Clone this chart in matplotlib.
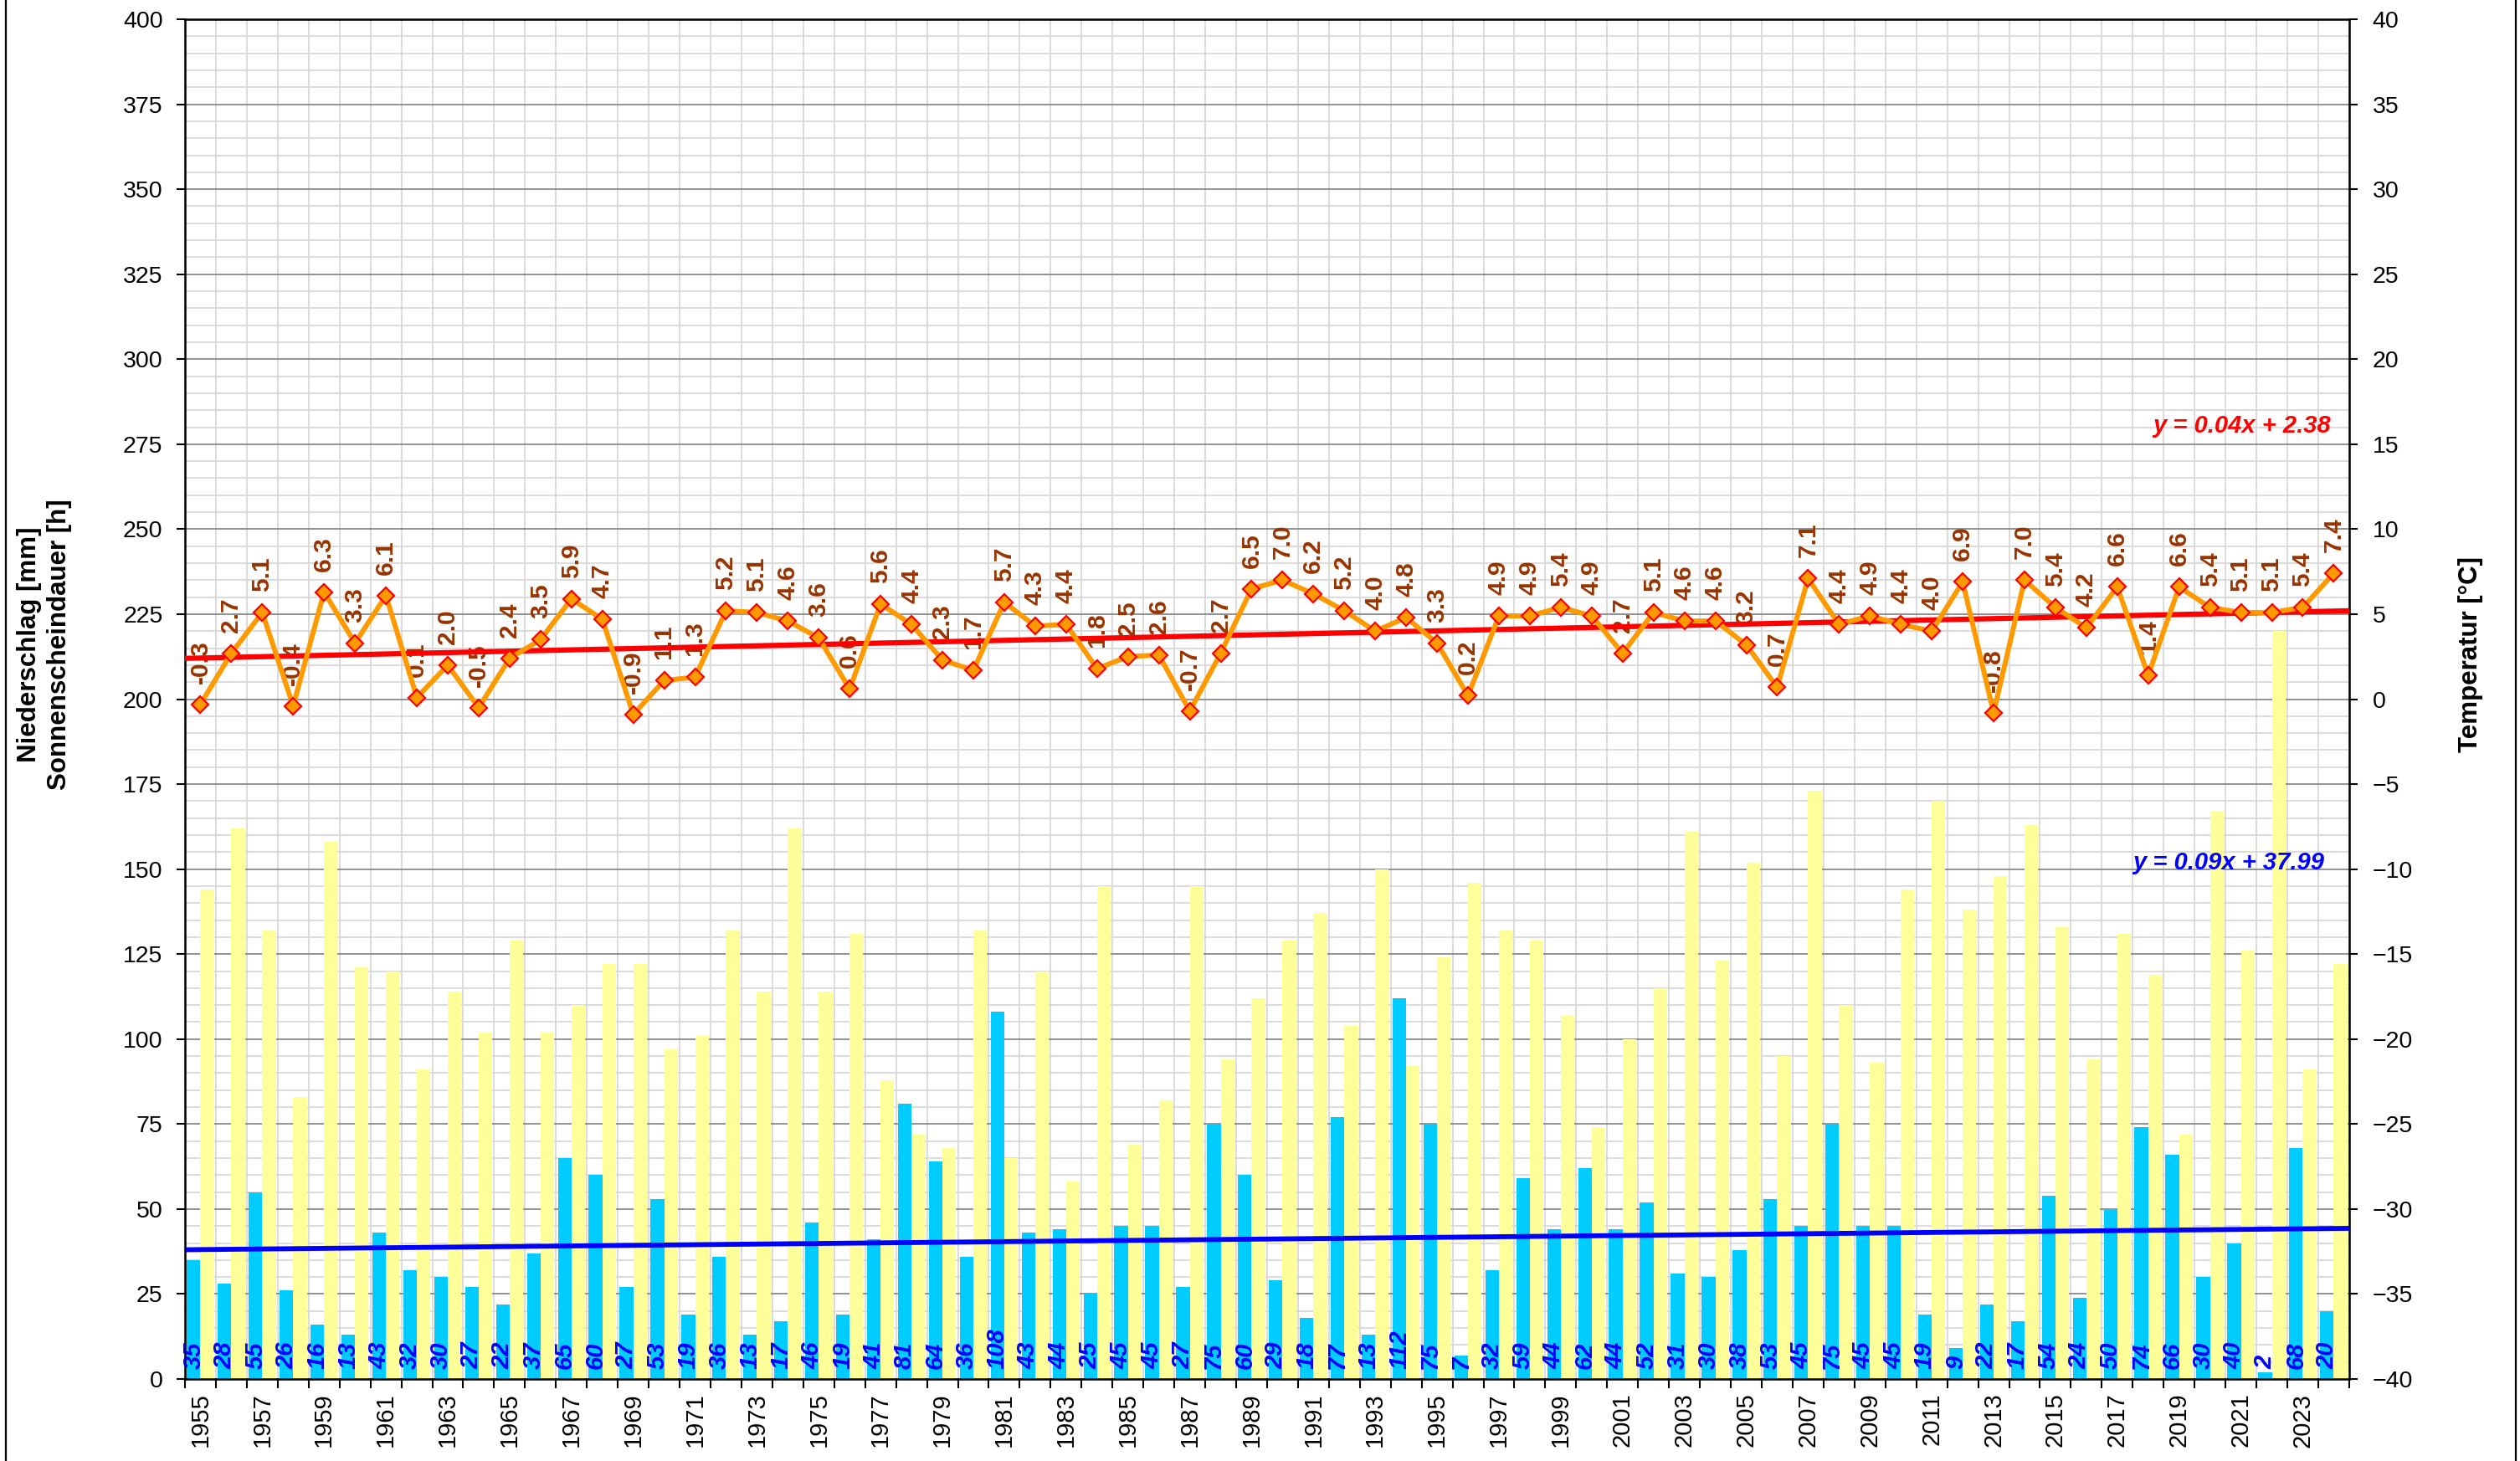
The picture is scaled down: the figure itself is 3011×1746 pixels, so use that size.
import numpy as np
import matplotlib
matplotlib.use("Agg")
import matplotlib.pyplot as plt
from matplotlib.ticker import MultipleLocator, FixedLocator
from matplotlib.lines import Line2D

# =============================================================================
# data
# =============================================================================
years = list(range(1955, 2025))

niederschlag = [35, 28, 55, 26, 16, 13, 43, 32, 30, 27,
                22, 37, 65, 60, 27, 53, 19, 36, 13, 17,
                46, 19, 41, 81, 64, 36, 108, 43, 44, 25,
                45, 45, 27, 75, 60, 29, 18, 77, 13, 112,
                75, 7, 32, 59, 44, 62, 44, 52, 31, 30,
                38, 53, 45, 75, 45, 45, 19, 9, 22, 17,
                54, 24, 50, 74, 66, 30, 40, 2, 68, 20]

sonne = [144, 162, 132, 83, 158, 121, 120, 91, 114, 102,
         129, 102, 110, 122, 122, 97, 101, 132, 114, 162,
         114, 131, 88, 72, 68, 132, 65, 120, 58, 145,
         69, 82, 145, 94, 112, 129, 137, 104, 150, 92,
         124, 146, 132, 129, 107, 74, 100, 115, 161, 123,
         152, 95, 173, 110, 93, 144, 170, 138, 148, 163,
         133, 94, 131, 119, 72, 167, 126, 220, 91, 122]

temperatur = [-0.3, 2.7, 5.1, -0.4, 6.3, 3.3, 6.1, 0.1, 2.0, -0.5,
              2.4, 3.5, 5.9, 4.7, -0.9, 1.1, 1.3, 5.2, 5.1, 4.6,
              3.6, 0.6, 5.6, 4.4, 2.3, 1.7, 5.7, 4.3, 4.4, 1.8,
              2.5, 2.6, -0.7, 2.7, 6.5, 7.0, 6.2, 5.2, 4.0, 4.8,
              3.3, 0.2, 4.9, 4.9, 5.4, 4.9, 2.7, 5.1, 4.6, 4.6,
              3.2, 0.7, 7.1, 4.4, 4.9, 4.4, 4.0, 6.9, -0.8, 7.0,
              5.4, 4.2, 6.6, 1.4, 6.6, 5.4, 5.1, 5.1, 5.4, 7.4]

# trend lines as given in the chart (x = 1..70)
temp_trend = (0.04, 2.38)
nied_trend = (0.09, 37.99)

# =============================================================================
# plot
# =============================================================================
plt.rcParams['font.family'] = ['Liberation Sans', 'DejaVu Sans']

fig = plt.figure(figsize=(30.11, 17.46), dpi=100)
ax = fig.add_axes([0.0734, 0.0561, 0.8588, 0.9307])

x = np.arange(1, len(years) + 1)
bw = 0.44

ax.bar(x - bw / 2, niederschlag, width=bw, color='#00CCFF', zorder=2)
ax.bar(x + bw / 2, sonne, width=bw, color='#FFFF99', zorder=2)

xt = np.array([0.5, len(years) + 0.5])
ax.plot(xt, nied_trend[0] * xt + nied_trend[1], color='#0000FF', lw=4.2, zorder=4)

for xi, v in zip(x, niederschlag):
    ax.annotate(str(v), (xi - bw / 2, 0), xytext=(0, 9), textcoords='offset points',
                rotation=90, ha='center', va='bottom', fontsize=21,
                fontweight='bold', fontstyle='italic', color='#0000FF', zorder=3)

ax.text(69.7, 152, 'y = %.2fx + %.2f' % nied_trend, ha='right', va='center',
        color='#0000FF', fontsize=21, fontweight='bold', fontstyle='italic', zorder=5)

ax.set_xlim(0.5, len(years) + 0.5)
ax.set_ylim(0, 400)
ax.yaxis.set_major_locator(MultipleLocator(25))
ax.yaxis.set_minor_locator(MultipleLocator(5))
ax.xaxis.set_major_locator(FixedLocator(np.arange(0.5, len(years) + 1, 1)))
ax.xaxis.set_major_formatter(plt.NullFormatter())
ax.xaxis.set_minor_locator(FixedLocator(x[::2]))
ax.set_xticklabels([str(y) for y in years[::2]], minor=True, rotation=90, fontsize=21)
ax.tick_params(axis='x', which='major', length=8, width=1.5, direction='out')
ax.tick_params(axis='x', which='minor', length=0, pad=12)
ax.tick_params(axis='y', which='major', length=7, width=1.5, labelsize=20.5, pad=12)
ax.tick_params(axis='y', which='minor', length=0)

ax.grid(axis='y', which='major', color='#808080', lw=1.2, zorder=0)
ax.grid(axis='y', which='minor', color='#d6d6d6', lw=1.2, zorder=0)
ax.grid(axis='x', which='major', color='#d6d6d6', lw=1.2, zorder=0)
ax.set_axisbelow(True)
for s in ax.spines.values():
    s.set_linewidth(1.8)

ax2 = ax.twinx()
ax2.set_ylim(-40, 40)
ax2.yaxis.set_major_locator(MultipleLocator(5))
ax2.tick_params(axis='y', length=7, width=1.5, labelsize=20.5, pad=13)

for xi, t in zip(x, temperatur):
    ax2.annotate('%.1f' % t, (xi, t), xytext=(0, 18), textcoords='offset points',
                 rotation=90, ha='center', va='bottom', fontsize=21.5,
                 fontweight='bold', color='#993300', zorder=2)

ax2.plot(xt, temp_trend[0] * xt + temp_trend[1], color='#FF0000', lw=4.5, zorder=3)
ax2.plot(x, temperatur, color='#FF9900', lw=4.3, marker='D', ms=10.5,
         mfc='#FF9900', mec='#FF0000', mew=1.6, zorder=4)

ax2.text(69.9, 16.1, 'y = %.2fx + %.2f' % temp_trend, ha='right', va='center',
         color='#FF0000', fontsize=21, fontweight='bold', fontstyle='italic', zorder=5)

fig.text(0.0115, 0.559, 'Niederschlag [mm]', rotation=90, ha='center', va='center',
         fontsize=22.5, fontweight='bold')
fig.text(0.0236, 0.559, 'Sonnenscheindauer [h]', rotation=90, ha='center', va='center',
         fontsize=22.5, fontweight='bold')
fig.text(0.9803, 0.552, 'Temperatur [°C]', rotation=90, ha='center', va='center',
         fontsize=22.5, fontweight='bold')

# outer frame (left and right edges)
for xf in (7 / 3011, 3006 / 3011):
    fig.add_artist(Line2D([xf, xf], [0, 1], transform=fig.transFigure, color='black', lw=1.6))

fig.savefig('out.png', dpi=100)
